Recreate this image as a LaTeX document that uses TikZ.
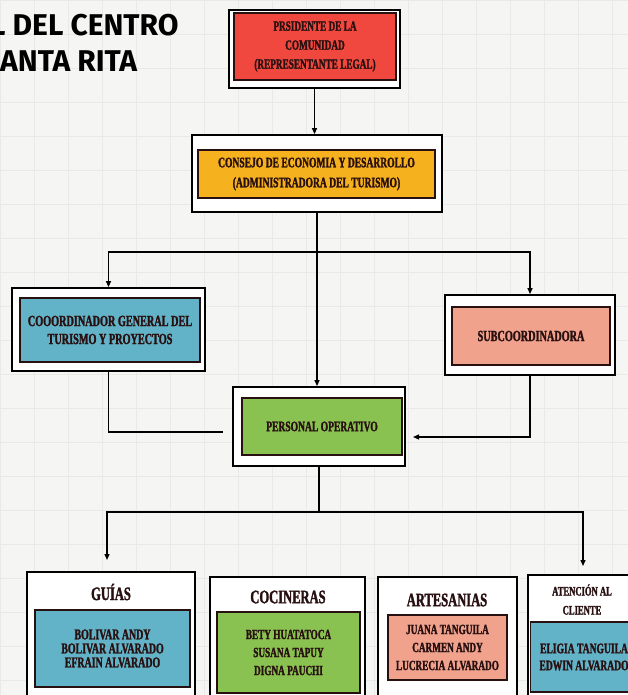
\documentclass[tikz,border=0pt]{standalone}
\usepackage{fontspec}
\usetikzlibrary{arrows.meta}
\newfontfamily\cond[FakeStretch=0.66, BoldFeatures={FakeBold=1.6}]{Liberation Serif}
\newfontfamily\headfont{Fira Sans}

\definecolor{paper}{RGB}{245,245,243}
\definecolor{gridline}{RGB}{233,233,231}
\definecolor{redfill}{RGB}{240,72,62}
\definecolor{orangefill}{RGB}{246,178,30}
\definecolor{bluefill}{RGB}{98,178,200}
\definecolor{salmonfill}{RGB}{240,162,140}
\definecolor{greenfill}{RGB}{138,194,82}
\definecolor{ink}{RGB}{40,16,16}

\tikzset{
  frame/.style={draw=black, line width=1.8pt, fill=white, inner sep=0pt},
  panel/.style={draw=ink, line width=1.2pt, inner sep=0pt, align=center, text=ink,
    font=\cond\bfseries\fontsize{14}{19}\selectfont},
  names/.style={panel, font=\cond\bfseries\fontsize{13.5}{16}\selectfont},
  heading/.style={inner sep=0pt, align=center, text=ink,
    font=\cond\bfseries\fontsize{19}{20}\selectfont},
  link/.style={line width=1.3pt, draw=black},
  tip/.style={-{Triangle[width=5pt,length=6pt]}},
  title/.style={anchor=west, inner sep=0pt, text=black,
    font=\headfont\bfseries\fontsize{30}{34}\selectfont},
}

\begin{document}
\begin{tikzpicture}[x=1pt,y=-1pt]
\useasboundingbox (0,0) rectangle (628,695);
\clip (0,0) rectangle (628,695);

% squared paper
\fill[paper] (0,0) rectangle (628,695);
\foreach \gx in {0,34,...,640} \draw[gridline, line width=0.6pt] (\gx,0) -- (\gx,695);
\foreach \gy in {0,34,...,700} \draw[gridline, line width=0.6pt] (0,\gy) -- (628,\gy);

% heading, running off the left edge of the sheet
\node[title] (title1) at (-10,25) {L DEL CENTRO};
\node[title] (title2) at (0,61) {ANTA RITA};

% president
\node[frame, minimum width=171, minimum height=78] (presf) at (314.5,49) {};
\node[panel, fill=redfill, minimum width=162, minimum height=67] (pres) at (315,46.5)
  {PRSIDENTE DE LA\\COMUNIDAD\\(REPRESENTANTE LEGAL)};

% council
\node[frame, minimum width=250, minimum height=77] (consf) at (317,173.5) {};
\node[panel, fill=orangefill, minimum width=237, minimum height=48, font=\cond\bfseries\fontsize{14.5}{20}\selectfont] (cons) at (316.5,174)
  {CONSEJO DE ECONOMIA Y DESARROLLO\\(ADMINISTRADORA DEL TURISMO)};

% coordinator
\node[frame, minimum width=193, minimum height=83] (coordf) at (108.5,329.5) {};
\node[panel, fill=bluefill, minimum width=180, minimum height=64, font=\cond\bfseries\fontsize{15.5}{18}\selectfont] (coord) at (110,330)
  {COOORDINADOR GENERAL DEL\\TURISMO Y PROYECTOS};

% sub-coordinator
\node[frame, minimum width=170, minimum height=80] (subf) at (530,335) {};
\node[panel, fill=salmonfill, minimum width=158, minimum height=58, font=\cond\bfseries\fontsize{15.5}{18}\selectfont] (sub) at (531,336)
  {SUBCOORDINADORA};

% operative staff
\node[frame, minimum width=172, minimum height=79] (persf) at (319,426.5) {};
\node[panel, fill=greenfill, minimum width=160, minimum height=57, font=\cond\bfseries\fontsize{14.5}{18}\selectfont] (pers) at (322,426.5)
  {PERSONAL OPERATIVO};

% teams
\node[frame, minimum width=168, minimum height=148] (guiasf) at (111,646) {};
\node[heading] (guiast) at (111,592) {GUÍAS};
\node[names, fill=bluefill, minimum width=155, minimum height=77, font=\cond\bfseries\fontsize{15}{14}\selectfont] (guias) at (112.5,648.5)
  {BOLIVAR ANDY\\BOLIVAR ALVARADO\\EFRAIN ALVARADO};

\node[frame, minimum width=155, minimum height=143] (cocf) at (287.5,648.5) {};
\node[heading] (coct) at (288,597) {COCINERAS};
\node[names, fill=greenfill, minimum width=143, minimum height=81, font=\cond\bfseries\fontsize{14}{18}\selectfont] (coc) at (288.5,652.5)
  {BETY HUATATOCA\\SUSANA TAPUY\\DIGNA PAUCHI};

\node[frame, minimum width=139, minimum height=143] (artf) at (447.5,648.5) {};
\node[heading] (artt) at (447,600) {ARTESANIAS};
\node[names, fill=salmonfill, minimum width=119, minimum height=65, font=\cond\bfseries\fontsize{14}{18}\selectfont] (art) at (447.5,647.5)
  {JUANA TANGUILA\\CARMEN ANDY\\LUCRECIA ALVARADO};

\node[frame, minimum width=137, minimum height=145] (atenf) at (596.5,647.5) {};
\node[heading, font=\cond\bfseries\fontsize{13}{19}\selectfont] (atent) at (582,599.5) {ATENCIÓN AL\\CLIENTE};
\node[names, fill=bluefill, minimum width=107, minimum height=70, font=\cond\bfseries\fontsize{14.5}{17}\selectfont] (aten) at (584,657)
  {ELIGIA TANGUILA\\EDWIN ALVARADO};

% connectors
\draw[link, tip] (presf.south) -- (presf.south |- consf.north);
\draw[link, tip] (consf.south) -- (consf.south |- persf.north);
\coordinate (bus1) at (318,252);
\draw[link, tip] (bus1) -| (coordf.north);
\draw[link, tip] (bus1) -| (subf.north);

\coordinate (lend) at (223,432);
\coordinate (rend) at (413,437);
\draw[link] (coordf.south) |- (lend);
\draw[link, tip] (subf.south) |- (rend);

\coordinate (bus2) at (319,512);
\coordinate (ldrop) at (107,560);
\coordinate (rdrop) at (583,566);
\draw[link] (persf.south) -- (bus2);
\draw[link, tip] (bus2) -| (ldrop);
\draw[link, tip] (bus2) -| (rdrop);
\end{tikzpicture}
\end{document}
